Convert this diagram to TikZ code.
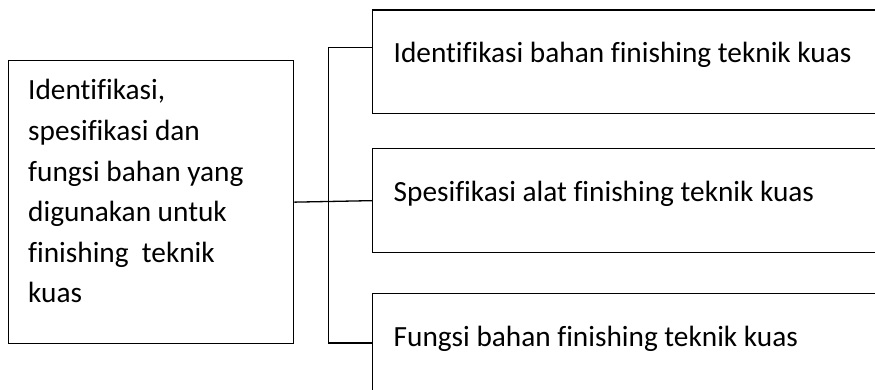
\documentclass[tikz,border=0pt]{standalone}
\usepackage{fontspec}
\setmainfont{Carlito}[Ligatures=CommonOff]
\begin{document}
\begin{tikzpicture}[x=1pt,y=1pt,
  box/.style={draw=black,line width=1.3pt,rectangle,inner sep=0pt,anchor=north west},
  txt/.style={anchor=base west,inner sep=0pt,font=\fontsize{29.3}{40.6}\selectfont},
  link/.style={draw=black,line width=1.3pt}]
\useasboundingbox (0,0) rectangle (875,390);
\clip (0,0) rectangle (875,390);
\fill[white] (0,0) rectangle (875,390);
% boxes
\node[box,minimum width=285pt,minimum height=283pt] (lb) at (8,330) {};
\node[box,minimum width=520pt,minimum height=103.7pt] (b1) at (372,380.7) {};
\node[box,minimum width=520pt,minimum height=104pt] (b2) at (372,242) {};
\node[box,minimum width=520pt,minimum height=130pt] (b3) at (372,97) {};
% texts
\node[txt] (lt) at (28,290) {\vtop{\hbox{Identifikasi,}\hbox{spesifikasi dan}\hbox{fungsi bahan yang}\hbox{digunakan untuk}\hbox{finishing\ \ teknik}\hbox{kuas}}};
\node[txt] (t1) at (393.5,327.3) {Identifikasi bahan finishing teknik kuas};
\node[txt] (t2) at (393.5,188) {Spesifikasi alat finishing teknik kuas};
\node[txt] (t3) at (393.5,43) {Fungsi bahan finishing teknik kuas};
% connectors
\coordinate (jt) at (328.3,342.7);
\coordinate (jb) at (328.3,47);
\draw[link] (lb.east) -- (b2.west);
\draw[link] (b1.west |- jt) -- (jt) -- (jb) -- (b3.west |- jb);
\end{tikzpicture}
\end{document}
